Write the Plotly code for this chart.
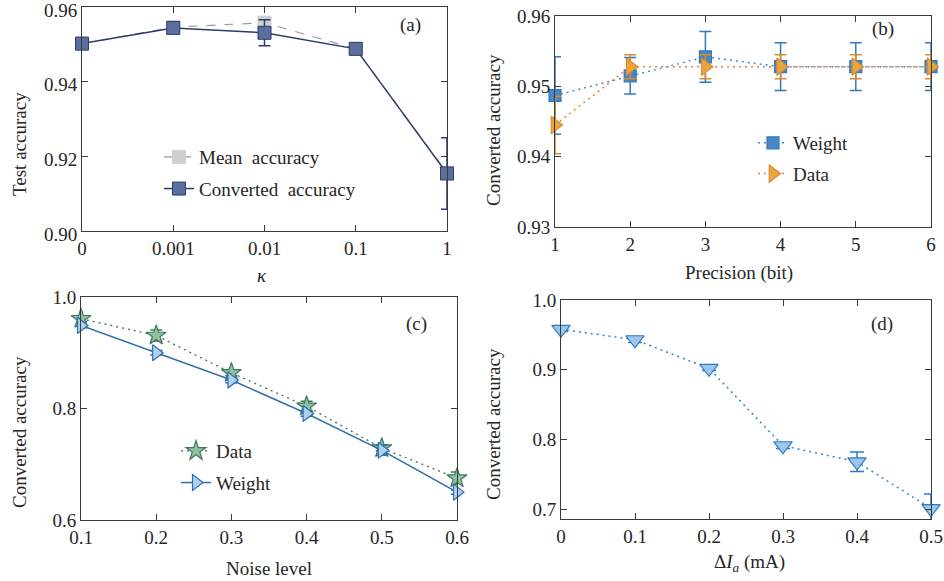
import plotly.graph_objects as go

FONT = "Liberation Serif"
TXT = "#262626"
AX = "#3a3a3a"
FS = 19

# ---------- data ----------
# (a)
a_cats = [0, 1, 2, 3, 4]
a_labels = ["0", "0.001", "0.01", "0.1", "1"]
a_mean = [0.9502, 0.9546, 0.9558, 0.9488, 0.9156]
a_conv = [0.9502, 0.9544, 0.9531, 0.9488, 0.9154]
a_conv_err = [0.0005, 0.0008, 0.0035, 0.0004, 0.0096]

# (b)
b_bits = [1, 2, 3, 4, 5, 6]
b_weight = [0.9487, 0.9515, 0.9542, 0.9528, 0.9528, 0.9528]
b_weight_err = [0.0055, 0.0026, 0.0036, 0.0034, 0.0034, 0.0034]
b_data = [0.9445, 0.9528, 0.9528, 0.9528, 0.9528, 0.9528]
b_data_err = [0.0041, 0.0017, 0.0017, 0.0017, 0.0017, 0.0017]

# (c)
c_noise = [0.1, 0.2, 0.3, 0.4, 0.5, 0.6]
c_data = [0.961, 0.931, 0.864, 0.804, 0.729, 0.675]
c_data_err = [0.005, 0.010, 0.005, 0.009, 0.005, 0.011]
c_weight = [0.949, 0.900, 0.851, 0.791, 0.725, 0.650]
c_weight_err = [0.004, 0.004, 0.005, 0.005, 0.009, 0.004]

# (d)
d_di = [0, 0.1, 0.2, 0.3, 0.4, 0.5]
d_acc = [0.958, 0.943, 0.902, 0.791, 0.768, 0.701]
d_err = [0.003, 0.004, 0.003, 0.004, 0.014, 0.021]

DOT = "2px,4px"

fig = go.Figure()

# ---------- panel a ----------
fig.add_trace(go.Scatter(
    x=a_cats, y=a_mean, name="Mean&nbsp; accuracy", mode="lines+markers",
    line=dict(color="#9a9a9a", width=1.2, dash="dash"),
    marker=dict(symbol="square", size=13, color="#cfcfcf", line=dict(color="#cfcfcf", width=1)),
    xaxis="x", yaxis="y", legend="legend", legendgroup="a1", cliponaxis=False))
fig.add_trace(go.Scatter(
    x=a_cats, y=a_conv, name="Converted&nbsp; accuracy", mode="lines+markers",
    line=dict(color="#2c3d6b", width=1.5),
    marker=dict(symbol="square", size=13, color="#5b6f9f", line=dict(color="#2c3d6b", width=1)),
    error_y=dict(type="data", array=a_conv_err, color="#2c3d6b", thickness=1.5, width=6),
    xaxis="x", yaxis="y", legend="legend", legendgroup="a2", cliponaxis=False))

# ---------- panel b ----------
fig.add_trace(go.Scatter(
    x=b_bits, y=b_weight, name="Weight", mode="lines+markers",
    line=dict(color="#3a8ccf", width=1.5, dash=DOT),
    marker=dict(symbol="square", size=12, color="#4a85c4", line=dict(color="#2f7bbf", width=1.2)),
    error_y=dict(type="data", array=b_weight_err, color="#2f7bbf", thickness=1.5, width=6),
    xaxis="x2", yaxis="y2", legend="legend2", legendgroup="b1", cliponaxis=False))
fig.add_trace(go.Scatter(
    x=b_bits, y=b_data, name="Data", mode="lines+markers",
    line=dict(color="#e8823a", width=1.5, dash=DOT),
    marker=dict(symbol="triangle-right", size=15, color="#e9a63f", line=dict(color="#da8a30", width=1.2)),
    error_y=dict(type="data", array=b_data_err, color="#da8a30", thickness=1.5, width=6),
    xaxis="x2", yaxis="y2", legend="legend2", legendgroup="b2", cliponaxis=False))

# ---------- panel c ----------
fig.add_trace(go.Scatter(
    x=c_noise, y=c_data, name="Data", mode="lines+markers",
    line=dict(color="#3f6f55", width=1.3, dash=DOT),
    marker=dict(symbol="star", size=15, color="#93c0a2", line=dict(color="#3e7a5a", width=1.2)),
    error_y=dict(type="data", array=c_data_err, color="#3e7a5a", thickness=1.5, width=6),
    xaxis="x3", yaxis="y3", legend="legend3", legendgroup="c1", cliponaxis=False))
fig.add_trace(go.Scatter(
    x=c_noise, y=c_weight, name="Weight", mode="lines+markers",
    line=dict(color="#2f6fae", width=1.5),
    marker=dict(symbol="triangle-right", size=14, color="#b2d0ee", line=dict(color="#2a6fb0", width=1.2)),
    error_y=dict(type="data", array=c_weight_err, color="#2a6fb0", thickness=1.5, width=6),
    xaxis="x3", yaxis="y3", legend="legend3", legendgroup="c2", cliponaxis=False))

# ---------- panel d ----------
fig.add_trace(go.Scatter(
    x=d_di, y=d_acc, name="acc", mode="lines+markers", showlegend=False,
    line=dict(color="#2c86cc", width=1.5, dash=DOT),
    marker=dict(symbol="triangle-down", size=16, color="#9fc5ea", line=dict(color="#2c7bc4", width=1.2)),
    error_y=dict(type="data", array=d_err, color="#2c7bc4", thickness=1.5, width=7),
    xaxis="x4", yaxis="y4", cliponaxis=False))

W, H = 944, 581
def px(x):
    return x / W
def py(y):
    return 1 - y / H

axis_common = dict(showline=True, linecolor=AX, linewidth=1, mirror="ticks",
                   ticks="inside", ticklen=6, tickcolor=AX, showgrid=False, zeroline=False,
                   automargin=False, ticklabeloverflow="allow",
                   tickfont=dict(family=FONT, size=FS, color=TXT))

legfont = dict(family=FONT, size=FS, color=TXT)
fig.update_layout(
    width=W, height=H, margin=dict(l=0, r=0, t=0, b=0, autoexpand=False),
    paper_bgcolor="white", plot_bgcolor="white",
    font=dict(family=FONT, size=FS, color=TXT),
    xaxis=dict(domain=[px(82), px(447)], anchor="y", range=[0, 4],
               tickvals=a_cats, ticktext=a_labels, **axis_common),
    yaxis=dict(domain=[py(231), py(7)], anchor="x", range=[0.89999, 0.96001],
               tickvals=[0.90, 0.92, 0.94, 0.96], tickformat=".2f", ticklabelshift=3,
               **axis_common),
    xaxis2=dict(domain=[px(555), px(931)], anchor="y2", range=[1, 6],
                tickvals=b_bits, **axis_common),
    yaxis2=dict(domain=[py(227), py(16)], anchor="x2", range=[0.92999, 0.96001],
                tickvals=[0.93, 0.94, 0.95, 0.96], tickformat=".2f", **axis_common),
    xaxis3=dict(domain=[px(81), px(457)], anchor="y3", range=[0.1, 0.6],
                tickvals=c_noise, tickformat=".1f", **axis_common),
    yaxis3=dict(domain=[py(520), py(297)], anchor="x3", range=[0.6, 1.0],
                tickvals=[0.6, 0.8, 1.0], tickformat=".1f", **axis_common),
    xaxis4=dict(domain=[px(561), px(931)], anchor="y4", range=[0, 0.5],
                tickvals=d_di, ticktext=["0", "0.1", "0.2", "0.3", "0.4", "0.5"], **axis_common),
    yaxis4=dict(domain=[py(519), py(300)], anchor="x4", range=[0.686, 1.0],
                tickvals=[0.7, 0.8, 0.9, 1.0], tickformat=".1f", **axis_common),
    legend=dict(x=px(159), y=py(138), xanchor="left", yanchor="top", bgcolor="rgba(0,0,0,0)",
                font=legfont, tracegroupgap=4, traceorder="grouped"),
    legend2=dict(x=px(753), y=py(124), xanchor="left", yanchor="top", bgcolor="rgba(0,0,0,0)",
                 font=legfont, tracegroupgap=3, traceorder="grouped"),
    legend3=dict(x=px(176), y=py(432), xanchor="left", yanchor="top", bgcolor="rgba(0,0,0,0)",
                 font=legfont, tracegroupgap=4, traceorder="grouped"),
)

ann = []
def add_text(text, x, y, angle=0, size=FS):
    ann.append(dict(text=text, x=px(x), y=py(y), xref="paper", yref="paper",
                    showarrow=False, textangle=angle, xanchor="center", yanchor="middle",
                    font=dict(family=FONT, size=size, color=TXT)))

add_text("(a)", 410, 25)
add_text("(b)", 883, 29)
add_text("(c)", 416, 324)
add_text("(d)", 882, 324)
add_text("Test accuracy", 19, 144, angle=-90)
add_text("Converted accuracy", 493, 130, angle=-90)
add_text("Converted accuracy", 19, 432, angle=-90)
add_text("Converted accuracy", 493, 424, angle=-90)
add_text("<i>κ</i>", 262, 275)
add_text("Precision (bit)", 739, 273)
add_text("Noise level", 269, 568)
add_text("Δ<i>I</i><sub><i>a</i></sub> (mA)", 749, 563)
fig.update_layout(annotations=ann)

fig.write_html("out.html")
